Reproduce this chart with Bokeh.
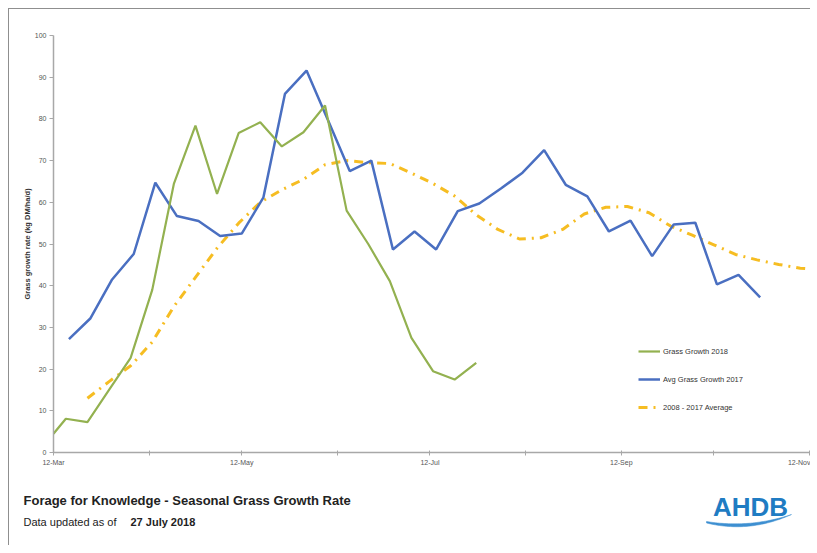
import numpy as np
import pandas as pd
from bokeh.plotting import figure
from bokeh.models import (Range1d, FixedTicker, DatetimeTickFormatter, Legend,
                          LegendItem, Label, ColumnDataSource)
from bokeh.layouts import column
from bokeh.embed import file_html
from bokeh.resources import INLINE

# ---------------- data ----------------
growth_2018_first_date = "2018-03-12"
growth_2018_weekly_start = "2018-03-16"
growth_2018 = [4.5, 8.1, 7.3, 15.0, 22.7, 39.0, 64.4, 78.4, 62.0, 76.6, 79.2,
               73.4, 76.8, 83.2, 58.0, 50.0, 41.1, 27.5, 19.5, 17.5, 21.5]

growth_2017_start = "2018-03-17"
growth_2017 = [27.2, 32.2, 41.5, 47.6, 64.7, 56.7, 55.5, 51.9, 52.5, 61.1, 86.0,
               91.6, 79.6, 67.5, 70.0, 48.7, 53.0, 48.7, 57.9, 59.7, 63.3, 67.1,
               72.5, 64.2, 61.4, 53.0, 55.6, 47.1, 54.7, 55.1, 40.3, 42.6, 37.2]

average_start = "2018-03-23"
average_2008_2017 = [13.0, 17.0, 20.8, 26.5, 35.0, 42.0, 49.0, 55.0, 60.0, 63.0,
                     65.5, 69.0, 70.0, 69.5, 69.3, 67.0, 64.5, 61.5, 57.0, 53.5,
                     51.2, 51.5, 53.5, 57.2, 58.8, 59.0, 57.5, 54.3, 52.1, 49.8,
                     47.5, 46.2, 45.1, 44.2, 43.8]

x_start, x_end = "2018-03-12", "2018-11-12"
major_tick_dates = ["2018-03-12", "2018-05-12", "2018-07-12", "2018-09-12", "2018-11-12"]
minor_tick_dates = ["2018-04-12", "2018-06-12", "2018-08-12", "2018-10-12"]
y_ticks = list(range(0, 101, 10))

series_names = ["Grass Growth 2018", "Avg Grass Growth 2017", "2008 - 2017 Average"]
y_axis_title = "Grass growth rate (kg DM/ha/d)"
footer_title = "Forage for Knowledge -  Seasonal Grass Growth Rate"
footer_updated = "Data updated as of"
footer_date = "27 July 2018"
logo_text = "AHDB"

# ---------------- helpers ----------------
def ms(d):
    return pd.Timestamp(d).value // 10**6

dates_2018 = [pd.Timestamp(growth_2018_first_date)] + list(
    pd.date_range(growth_2018_weekly_start, periods=len(growth_2018) - 1, freq="7D"))
dates_2017 = list(pd.date_range(growth_2017_start, periods=len(growth_2017), freq="7D"))
dates_avg = list(pd.date_range(average_start, periods=len(average_2008_2017), freq="7D"))

FONT = "Liberation Sans"
GREEN = "#93b150"
BLUE = "#4a6fc1"
YELLOW = "#f6bd22"
AXIS = "#a8a8a8"

W = 801

# ---------------- main chart ----------------
p = figure(width=W, height=462, x_axis_type="datetime",
           x_range=Range1d(pd.Timestamp(x_start), pd.Timestamp(x_end)),
           y_range=Range1d(0, 100),
           output_backend="svg", toolbar_location=None,
           min_border_left=44, min_border_right=1, min_border_top=26,
           min_border_bottom=19)
p.frame_align = False
p.outline_line_color = None
p.xgrid.visible = False
p.ygrid.visible = False
p.background_fill_color = "white"
p.border_fill_color = "white"

src18 = ColumnDataSource(dict(x=dates_2018, y=growth_2018))
src17 = ColumnDataSource(dict(x=dates_2017, y=growth_2017))
srcav = ColumnDataSource(dict(x=dates_avg, y=average_2008_2017))

r_av = p.line("x", "y", source=srcav, line_color=YELLOW, line_width=3,
              line_dash="9 6 2 6", line_cap="butt")
r17 = p.line("x", "y", source=src17, line_color=BLUE, line_width=2.5)
r18 = p.line("x", "y", source=src18, line_color=GREEN, line_width=2.2)

# x axis
xa = p.xaxis[0]
xa.ticker = FixedTicker(ticks=[ms(d) for d in major_tick_dates],
                        minor_ticks=[ms(d) for d in minor_tick_dates])
xa.formatter = DatetimeTickFormatter(days="%d-%b", months="%d-%b", years="%d-%b",
                                     hours="%d-%b", minutes="%d-%b")
xa.major_label_text_font = FONT
xa.major_label_text_font_size = "7px"
xa.major_label_text_color = "#555555"
xa.axis_line_color = AXIS
xa.axis_line_width = 1.5
xa.major_tick_line_color = AXIS
xa.minor_tick_line_color = AXIS
xa.major_tick_in = 2
xa.major_tick_out = 3
xa.minor_tick_in = 2
xa.minor_tick_out = 3
xa.major_label_standoff = 3

# y axis
ya = p.yaxis[0]
ya.ticker = FixedTicker(ticks=y_ticks, minor_ticks=[])
ya.major_label_text_font = FONT
ya.major_label_text_font_size = "7px"
ya.major_label_text_color = "#555555"
ya.axis_line_color = AXIS
ya.axis_line_width = 1.5
ya.major_tick_line_color = AXIS
ya.major_tick_in = 0
ya.major_tick_out = 4
ya.major_label_standoff = 3
ya.axis_label = y_axis_title
ya.axis_label_text_font = FONT
ya.axis_label_text_font_size = "7.5px"
ya.axis_label_text_font_style = "bold"
ya.axis_label_text_color = "#333333"
ya.axis_label_standoff = 0

legend = Legend(items=[LegendItem(label=series_names[0], renderers=[r18]),
                       LegendItem(label=series_names[1], renderers=[r17]),
                       LegendItem(label=series_names[2], renderers=[r_av])],
                location=(585, 35))
legend.border_line_color = None
legend.background_fill_alpha = 0
legend.label_text_font = FONT
legend.label_text_font_size = "7.5px"
legend.label_text_color = "#333333"
legend.glyph_width = 22
legend.glyph_height = 20
legend.label_height = 20
legend.spacing = 8
legend.padding = 0
legend.margin = 0
legend.label_standoff = 3
p.add_layout(legend)

# ---------------- footer (data units == canvas pixels) ----------------
f = figure(width=W, height=74, x_range=Range1d(0, W), y_range=Range1d(74, 0),
           x_axis_location=None, y_axis_location=None,
           output_backend="svg", toolbar_location=None,
           min_border_left=0, min_border_right=0,
           min_border_top=0, min_border_bottom=0)
f.frame_align = False
f.outline_line_color = None
f.xgrid.visible = False
f.ygrid.visible = False
f.background_fill_color = "white"
f.border_fill_color = "white"

f.add_layout(Label(x=14, y=29, text=footer_title, text_font=FONT,
                   text_font_size="13px", text_font_style="bold",
                   text_color="#222222", text_baseline="middle"))
f.add_layout(Label(x=14, y=50, text=footer_updated, text_font=FONT,
                   text_font_size="11px", text_color="#222222",
                   text_baseline="middle"))
f.add_layout(Label(x=121, y=50, text=footer_date, text_font=FONT,
                   text_font_size="11px", text_font_style="bold",
                   text_color="#222222", text_baseline="middle"))
f.add_layout(Label(x=741, y=35, text=logo_text, text_font=FONT,
                   text_font_size="26px", text_font_style="bold",
                   text_color="#1f7cc3", text_align="center",
                   text_baseline="middle"))

# logo swoosh (decorative shape)
t = np.linspace(0, 1, 40)
def qbez(p0, p1, p2):
    return ((1 - t) ** 2 * p0[0] + 2 * (1 - t) * t * p1[0] + t ** 2 * p2[0],
            (1 - t) ** 2 * p0[1] + 2 * (1 - t) * t * p1[1] + t ** 2 * p2[1])
ux, uy = qbez((697, 50), (740, 57), (782, 43))
lx, ly = qbez((782, 43), (740, 62), (697, 51.5))
f.patch(list(ux) + list(lx), list(uy) + list(ly), fill_color="#3d8fd1",
        line_color="#3d8fd1", line_width=0.5)

layout = column(p, f, spacing=0,
                styles={"margin-left": "8px", "margin-top": "8px",
                        "border-top": "1px solid #8f8f8f",
                        "border-left": "1px solid #8f8f8f"})

open("out.html", "w").write(file_html(layout, INLINE))
